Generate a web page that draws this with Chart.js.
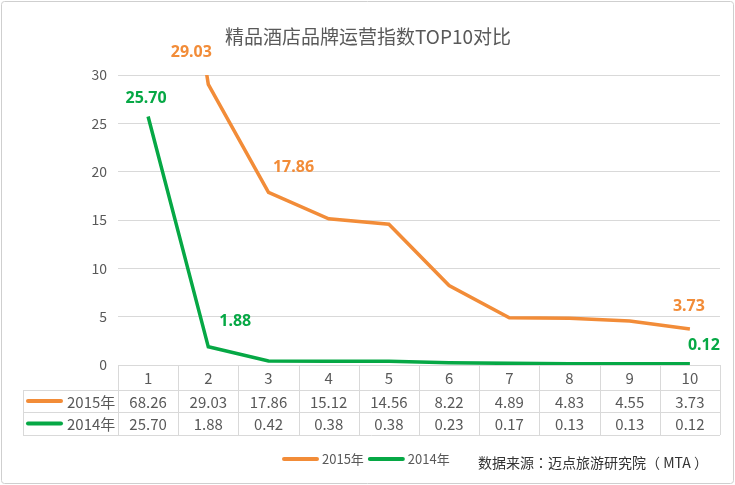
<!DOCTYPE html>
<html>
<head>
<meta charset="utf-8">
<script src="https://cdn.jsdelivr.net/npm/chart.js@4.4.0/dist/chart.umd.min.js"></script>
<style>
  html, body { margin: 0; padding: 0; background: #fff; }
  canvas { display: block; }
</style>
</head>
<body>
<canvas id="brandChart" width="735" height="485"></canvas>
<script>
const categories = ['1', '2', '3', '4', '5', '6', '7', '8', '9', '10'];
const values2015 = [68.26, 29.03, 17.86, 15.12, 14.56, 8.22, 4.89, 4.83, 4.55, 3.73];
const values2014 = [25.70, 1.88, 0.42, 0.38, 0.38, 0.23, 0.17, 0.13, 0.13, 0.12];
const yTicks = [0, 5, 10, 15, 20, 25, 30];
const seriesNames = ['2015年', '2014年'];

const ORANGE = '#F28C38';
const GREEN = '#06A845';
const GRAY_TEXT = '#595959';
const LINE_GRAY = '#d9d9d9';
const FONT = '"Noto Sans CJK SC", "Noto Sans", sans-serif';

// which points get a value label, and where (offset from the point)
const labelSpots = [
    { ds: 0, i: 1, dx: -17, dy: -32 },
    { ds: 0, i: 2, dx: 25, dy: -25 },
    { ds: 0, i: 9, dx: -1, dy: -23 },
    { ds: 1, i: 0, dx: -2, dy: -18 },
    { ds: 1, i: 1, dx: 27, dy: -25 },
    { ds: 1, i: 9, dx: 14, dy: -18 }
];

const frame = {
    id: 'frame',
    beforeDraw(chart) {
        const ctx = chart.ctx;
        ctx.save();
        ctx.fillStyle = '#fff';
        ctx.fillRect(0, 0, chart.width, chart.height);
        ctx.strokeStyle = '#cfcfcf';
        ctx.lineWidth = 1;
        ctx.beginPath();
        ctx.roundRect(1.5, 1.5, chart.width - 3, chart.height - 3, 3);
        ctx.stroke();
        ctx.fillStyle = GRAY_TEXT;
        ctx.font = '19px ' + FONT;
        ctx.textAlign = 'center';
        ctx.textBaseline = 'middle';
        ctx.fillText('精品酒店品牌运营指数TOP10对比', 368, 37);
        ctx.restore();
    }
};

const dataTable = {
    id: 'dataTable',
    afterDraw(chart) {
        const ctx = chart.ctx;
        const x = chart.scales.x;
        const area = chart.chartArea;
        const colW = (area.right - area.left) / categories.length;
        const top = area.bottom;
        const rows = [top, top + 25, top + 47, top + 70];
        const leftEdge = 23;

        ctx.save();
        ctx.strokeStyle = LINE_GRAY;
        ctx.lineWidth = 1;
        ctx.beginPath();
        ctx.moveTo(area.left, rows[0] + 0.5);
        ctx.lineTo(area.right, rows[0] + 0.5);
        for (let r = 1; r < rows.length; r++) {
            ctx.moveTo(leftEdge, rows[r] + 0.5);
            ctx.lineTo(area.right, rows[r] + 0.5);
        }
        for (let c = 0; c <= categories.length; c++) {
            const cx = Math.round(area.left + c * colW) + 0.5;
            ctx.moveTo(cx, rows[0]);
            ctx.lineTo(cx, rows[3]);
        }
        ctx.moveTo(leftEdge + 0.5, rows[1]);
        ctx.lineTo(leftEdge + 0.5, rows[3]);
        ctx.stroke();

        ctx.fillStyle = GRAY_TEXT;
        ctx.font = '15px ' + FONT;
        ctx.textAlign = 'center';
        ctx.textBaseline = 'middle';
        const series = [values2015, values2014];
        categories.forEach((cat, i) => {
            const cx = x.getPixelForValue(i);
            ctx.fillText(cat, cx, (rows[0] + rows[1]) / 2 + 1);
            series.forEach((vals, s) => {
                ctx.fillText(vals[i].toFixed(2), cx, (rows[s + 1] + rows[s + 2]) / 2 + 1);
            });
        });

        // row headers with line keys
        [ORANGE, GREEN].forEach((col, s) => {
            const cy = (rows[s + 1] + rows[s + 2]) / 2;
            ctx.strokeStyle = col;
            ctx.lineWidth = 4;
            ctx.lineCap = 'round';
            ctx.beginPath();
            ctx.moveTo(28, cy);
            ctx.lineTo(61, cy);
            ctx.stroke();
            ctx.textAlign = 'left';
            ctx.fillText(seriesNames[s], 67, cy + 1);
        });

        // legend
        ctx.font = '13px ' + FONT;
        let lx = 284;
        const ly = 459;
        [ORANGE, GREEN].forEach((col, s) => {
            ctx.strokeStyle = col;
            ctx.lineWidth = 4;
            ctx.beginPath();
            ctx.moveTo(lx, ly);
            ctx.lineTo(lx + 33, ly);
            ctx.stroke();
            ctx.fillStyle = GRAY_TEXT;
            ctx.fillText(seriesNames[s], lx + 38, ly);
            lx += 38 + ctx.measureText(seriesNames[s]).width + 6;
        });

        ctx.fillStyle = '#333';
        ctx.font = '14px "Noto Sans CJK TC", ' + FONT;
        ctx.fillText('数据来源：迈点旅游研究院（ MTA ）', 478, 463);
        ctx.restore();
    }
};

const valueLabels = {
    id: 'valueLabels',
    afterDatasetsDraw(chart) {
        const ctx = chart.ctx;
        ctx.save();
        ctx.font = 'bold 16px "Noto Sans", ' + FONT;
        ctx.textAlign = 'center';
        ctx.textBaseline = 'middle';
        labelSpots.forEach(spot => {
            const meta = chart.getDatasetMeta(spot.ds);
            const pt = meta.data[spot.i];
            const value = chart.data.datasets[spot.ds].data[spot.i];
            ctx.fillStyle = chart.data.datasets[spot.ds].borderColor;
            ctx.fillText(value.toFixed(2), pt.x + spot.dx, pt.y + spot.dy);
        });
        ctx.restore();
    }
};

new Chart(document.getElementById('brandChart'), {
    type: 'line',
    data: {
        labels: categories,
        datasets: [
            { label: seriesNames[0], data: values2015, borderColor: ORANGE, borderWidth: 3.5, pointRadius: 0, tension: 0 },
            { label: seriesNames[1], data: values2014, borderColor: GREEN, borderWidth: 3.5, pointRadius: 0, tension: 0 }
        ]
    },
    options: {
        responsive: false,
        animation: false,
        devicePixelRatio: 1,
        layout: { padding: { left: 0, right: 15, top: 75, bottom: 120 } },
        plugins: {
            legend: { display: false },
            tooltip: { enabled: false }
        },
        scales: {
            x: { display: false, offset: true },
            y: {
                min: 0,
                max: 30,
                afterFit(scale) { scale.width = 118; },
                afterBuildTicks(scale) { scale.ticks = yTicks.map(v => ({ value: v })); },
                border: { display: false },
                grid: { color: LINE_GRAY, drawTicks: false },
                ticks: { color: GRAY_TEXT, padding: 11, font: { family: FONT, size: 14 } }
            }
        }
    },
    plugins: [frame, dataTable, valueLabels]
});
</script>
</body>
</html>
